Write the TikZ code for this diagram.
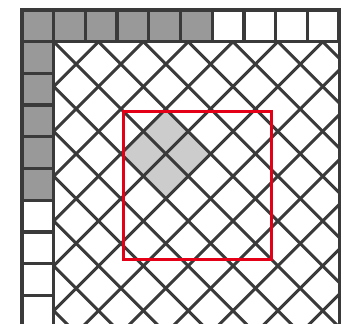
\documentclass[tikz,border=0pt]{standalone}
\usepackage{xcolor}
\definecolor{linegray}{RGB}{58,58,58}
\definecolor{cellgray}{RGB}{153,153,153}
\definecolor{tilegray}{RGB}{204,204,204}
\definecolor{markred}{RGB}{228,0,22}

\begin{document}
\begin{tikzpicture}[x=0.03cm, y=-0.03cm]
\tikzstyle{cell} = [draw=linegray, line width=0.1cm, fill=white]
\tikzstyle{graycell} = [cell, fill=cellgray]
\tikzstyle{tile} = [draw=linegray, line width=0.09cm]
\tikzstyle{marker} = [draw=markred, line width=0.09cm]

\clip (0,0) rectangle (347,323);

% Shaded tiles
\fill[tilegray] (165.8,109) -- (210.6,153.8) -- (165.8,198.6) -- (121,153.8) -- cycle;

% Diagonal tiles
\begin{scope}
\clip (53.7,41.7) rectangle (339,340);
\foreach \k in {-8,...,14} {
  \draw[tile] ({53.7+44.83*\k},41.7) -- ++(400,400);
  \draw[tile] ({53.7+44.83*\k},41.7) -- ++(-400,400);
}
\end{scope}
\draw[tile] (339,41.7) -- (339,340);

% Marker
\draw[marker] (123,111) rectangle (271,259);

% Border cells
\foreach \i in {0,...,5} \draw[graycell] ({22+31.7*\i},10) rectangle ++(31.7,31.7);
\foreach \i in {6,...,9} \draw[cell] ({22+31.7*\i},10) rectangle ++(31.7,31.7);
\foreach \j in {1,...,5} \draw[graycell] (22,{10+31.7*\j}) rectangle ++(31.7,31.7);
\foreach \j in {6,...,9} \draw[cell] (22,{10+31.7*\j}) rectangle ++(31.7,31.7);
\end{tikzpicture}
\end{document}
